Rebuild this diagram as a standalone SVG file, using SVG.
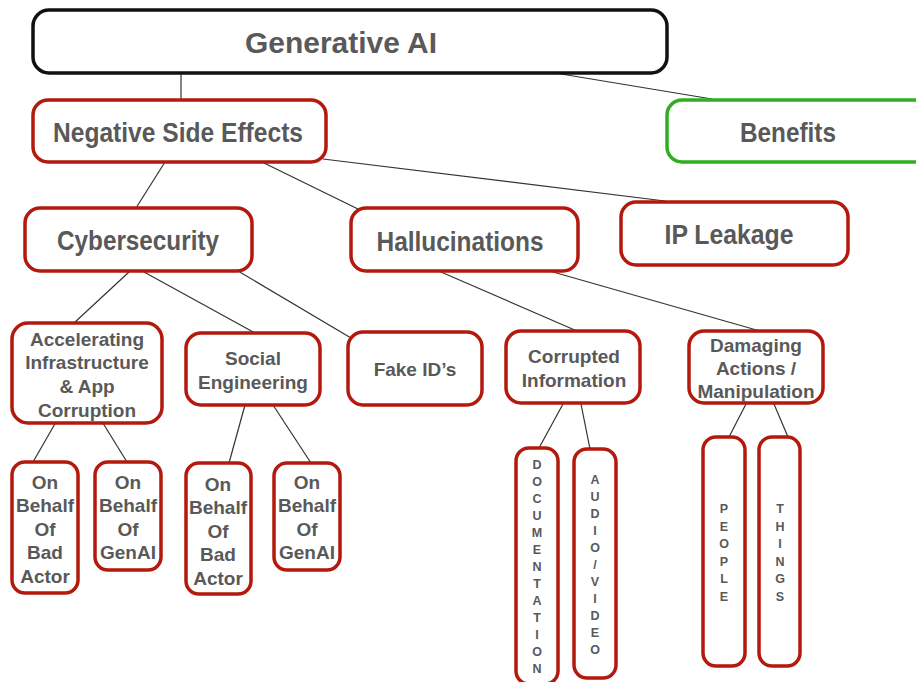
<svg xmlns="http://www.w3.org/2000/svg" width="916" height="682" viewBox="0 0 916 682">
  <style>
    .box { fill: #ffffff; stroke: #b3190d; stroke-width: 3.5; }
    .root { fill: #ffffff; stroke: #111111; stroke-width: 3.5; }
    .good { fill: #ffffff; stroke: #2fae1f; stroke-width: 3.5; }
    .big { font-family: "Liberation Sans", Arial, sans-serif; font-weight: bold; fill: #595959; text-anchor: middle; dominant-baseline: central; }
    .mid { font-family: "Liberation Sans", Arial, sans-serif; font-weight: bold; font-size: 19px; fill: #595959; text-anchor: middle; dominant-baseline: central; }
    .col { font-family: "Liberation Sans", Arial, sans-serif; font-weight: bold; font-size: 12.5px; fill: #595959; text-anchor: middle; dominant-baseline: central; }
    .link { stroke: #333333; stroke-width: 1.2; fill: none; }
  </style>

  <g id="connectors">
    <line class="link" x1="181" y1="73" x2="181" y2="100"/>
    <line class="link" x1="555" y1="73" x2="712" y2="99"/>
    <line class="link" x1="165" y1="162" x2="136" y2="208"/>
    <line class="link" x1="262" y1="162" x2="360" y2="210"/>
    <line class="link" x1="323" y1="159" x2="665" y2="201"/>
    <line class="link" x1="129" y1="272" x2="74" y2="323"/>
    <line class="link" x1="144" y1="272" x2="255" y2="333"/>
    <line class="link" x1="238" y1="271" x2="351" y2="338"/>
    <line class="link" x1="441" y1="272" x2="577" y2="331"/>
    <line class="link" x1="546" y1="270" x2="760" y2="331"/>
    <line class="link" x1="56" y1="422" x2="33" y2="462"/>
    <line class="link" x1="101" y1="420" x2="127" y2="462"/>
    <line class="link" x1="245" y1="405" x2="229" y2="463"/>
    <line class="link" x1="273" y1="405" x2="311" y2="463"/>
    <line class="link" x1="563" y1="404" x2="539" y2="448"/>
    <line class="link" x1="581" y1="404" x2="590" y2="449"/>
    <line class="link" x1="746" y1="404" x2="729" y2="437"/>
    <line class="link" x1="774" y1="404" x2="788" y2="437"/>
  </g>

  <g id="generative-ai">
    <rect class="root" x="33" y="10" width="634" height="63" rx="16"/>
    <text class="big" x="341" y="43" font-size="29" textLength="192" lengthAdjust="spacingAndGlyphs">Generative AI</text>
  </g>

  <g id="negative-side-effects">
    <rect class="box" x="33" y="100" width="293" height="62" rx="15"/>
    <text class="big" x="178" y="133" font-size="27" textLength="250" lengthAdjust="spacingAndGlyphs">Negative Side Effects</text>
  </g>

  <g id="benefits">
    <rect class="good" x="667" y="100" width="262" height="62" rx="15"/>
    <text class="big" x="788" y="133" font-size="27" textLength="96" lengthAdjust="spacingAndGlyphs">Benefits</text>
  </g>

  <g id="cybersecurity">
    <rect class="box" x="25" y="208" width="227" height="63" rx="15"/>
    <text class="big" x="138" y="241" font-size="27" textLength="162" lengthAdjust="spacingAndGlyphs">Cybersecurity</text>
  </g>

  <g id="hallucinations">
    <rect class="box" x="351" y="208" width="227" height="63" rx="15"/>
    <text class="big" x="460" y="242" font-size="27" textLength="167" lengthAdjust="spacingAndGlyphs">Hallucinations</text>
  </g>

  <g id="ip-leakage">
    <rect class="box" x="621" y="202" width="227" height="63" rx="15"/>
    <text class="big" x="729" y="235" font-size="27" textLength="129" lengthAdjust="spacingAndGlyphs">IP Leakage</text>
  </g>

  <g id="accelerating">
    <rect class="box" x="12" y="323" width="150" height="100" rx="16"/>
    <text class="mid" x="87" y="339">Accelerating</text>
    <text class="mid" x="87" y="362">Infrastructure</text>
    <text class="mid" x="87" y="386">&amp; App</text>
    <text class="mid" x="87" y="410">Corruption</text>
  </g>

  <g id="social-engineering">
    <rect class="box" x="186" y="333" width="134" height="72" rx="15"/>
    <text class="mid" x="253" y="358">Social</text>
    <text class="mid" x="253" y="382">Engineering</text>
  </g>

  <g id="fake-ids">
    <rect class="box" x="348" y="332" width="134" height="73" rx="15"/>
    <text class="mid" x="415" y="369">Fake ID’s</text>
  </g>

  <g id="corrupted-information">
    <rect class="box" x="506" y="331" width="134" height="72" rx="15"/>
    <text class="mid" x="574" y="356">Corrupted</text>
    <text class="mid" x="574" y="380">Information</text>
  </g>

  <g id="damaging-actions">
    <rect class="box" x="689" y="331" width="134" height="72" rx="15"/>
    <text class="mid" x="756" y="345">Damaging</text>
    <text class="mid" x="756" y="368">Actions /</text>
    <text class="mid" x="756" y="391">Manipulation</text>
  </g>

  <g id="bad-actor-infra">
    <rect class="box" x="12" y="462" width="66" height="131" rx="13"/>
    <text class="mid" x="45" y="482">On</text>
    <text class="mid" x="45" y="505">Behalf</text>
    <text class="mid" x="45" y="529">Of</text>
    <text class="mid" x="45" y="552">Bad</text>
    <text class="mid" x="45" y="576">Actor</text>
  </g>

  <g id="genai-infra">
    <rect class="box" x="95" y="462" width="66" height="108" rx="13"/>
    <text class="mid" x="128" y="482">On</text>
    <text class="mid" x="128" y="505">Behalf</text>
    <text class="mid" x="128" y="529">Of</text>
    <text class="mid" x="128" y="552">GenAI</text>
  </g>

  <g id="bad-actor-social">
    <rect class="box" x="186" y="463" width="65" height="131" rx="13"/>
    <text class="mid" x="218" y="484">On</text>
    <text class="mid" x="218" y="507">Behalf</text>
    <text class="mid" x="218" y="531">Of</text>
    <text class="mid" x="218" y="554">Bad</text>
    <text class="mid" x="218" y="578">Actor</text>
  </g>

  <g id="genai-social">
    <rect class="box" x="274" y="463" width="66" height="107" rx="13"/>
    <text class="mid" x="307" y="482">On</text>
    <text class="mid" x="307" y="505">Behalf</text>
    <text class="mid" x="307" y="529">Of</text>
    <text class="mid" x="307" y="552">GenAI</text>
  </g>

  <g id="documentation">
    <rect class="box" x="516" y="448" width="42" height="236" rx="13"/>
    <text class="col" x="537" y="465">D</text>
    <text class="col" x="537" y="482">O</text>
    <text class="col" x="537" y="499">C</text>
    <text class="col" x="537" y="516">U</text>
    <text class="col" x="537" y="533">M</text>
    <text class="col" x="537" y="550">E</text>
    <text class="col" x="537" y="567">N</text>
    <text class="col" x="537" y="584">T</text>
    <text class="col" x="537" y="601">A</text>
    <text class="col" x="537" y="618">T</text>
    <text class="col" x="537" y="635">I</text>
    <text class="col" x="537" y="652">O</text>
    <text class="col" x="537" y="669">N</text>
  </g>

  <g id="audio-video">
    <rect class="box" x="574" y="449" width="42" height="229" rx="13"/>
    <text class="col" x="595" y="480">A</text>
    <text class="col" x="595" y="497">U</text>
    <text class="col" x="595" y="514">D</text>
    <text class="col" x="595" y="531">I</text>
    <text class="col" x="595" y="548">O</text>
    <text class="col" x="595" y="565">/</text>
    <text class="col" x="595" y="582">V</text>
    <text class="col" x="595" y="599">I</text>
    <text class="col" x="595" y="616">D</text>
    <text class="col" x="595" y="633">E</text>
    <text class="col" x="595" y="650">O</text>
  </g>

  <g id="people">
    <rect class="box" x="703" y="437" width="42" height="229" rx="13"/>
    <text class="col" x="724" y="509">P</text>
    <text class="col" x="724" y="527">E</text>
    <text class="col" x="724" y="544">O</text>
    <text class="col" x="724" y="562">P</text>
    <text class="col" x="724" y="579">L</text>
    <text class="col" x="724" y="597">E</text>
  </g>

  <g id="things">
    <rect class="box" x="759" y="437" width="41" height="229" rx="13"/>
    <text class="col" x="780" y="509">T</text>
    <text class="col" x="780" y="527">H</text>
    <text class="col" x="780" y="544">I</text>
    <text class="col" x="780" y="562">N</text>
    <text class="col" x="780" y="579">G</text>
    <text class="col" x="780" y="597">S</text>
  </g>
</svg>
